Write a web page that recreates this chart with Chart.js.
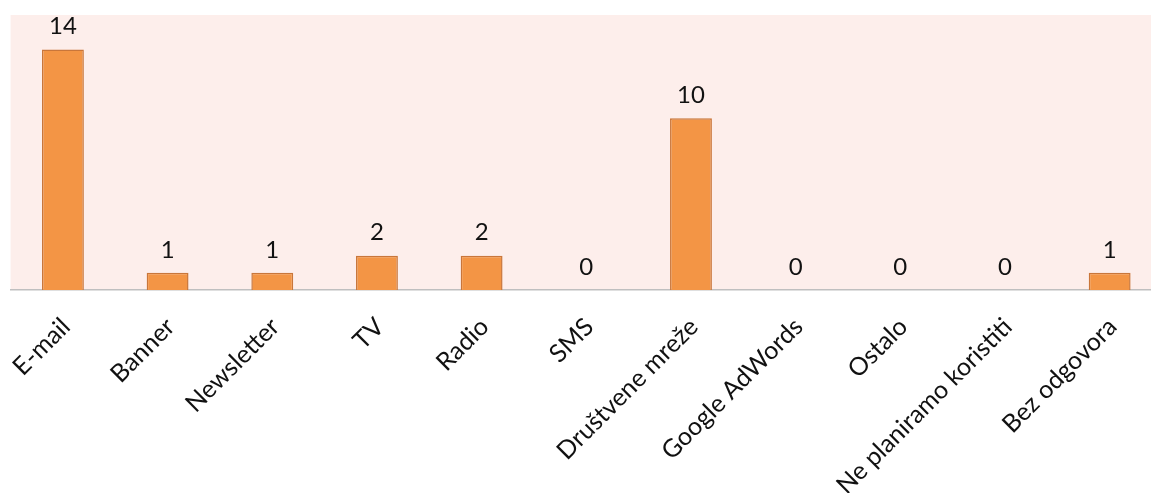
<!DOCTYPE html>
<html>
<head>
<meta charset="utf-8">
<script src="https://cdn.jsdelivr.net/npm/chart.js@4"></script>
<style>
  html, body { margin: 0; padding: 0; background: #fff; overflow: hidden; }
  #wrap { width: 1162px; height: 493px; }
</style>
</head>
<body>
<div id="wrap"><canvas id="bar-chart"></canvas></div>
<script>
var categories = ['E-mail', 'Banner', 'Newsletter', 'TV', 'Radio', 'SMS', 'Društvene mreže', 'Google AdWords', 'Ostalo', 'Ne planiramo koristiti', 'Bez odgovora'];
var counts = [14, 1, 1, 2, 2, 0, 10, 0, 0, 0, 1];

var fontFamily = 'Lato, "Open Sans", sans-serif';

// pink plot background
var plotBackground = {
  id: 'plotBackground',
  beforeDraw: function(chart) {
    var a = chart.chartArea, ctx = chart.ctx;
    ctx.save();
    ctx.fillStyle = '#FDEEEB';
    ctx.fillRect(a.left, a.top, a.right - a.left, a.bottom - a.top);
    ctx.restore();
  }
};

// value labels above each bar
var valueLabels = {
  id: 'valueLabels',
  afterDatasetsDraw: function(chart) {
    var ctx = chart.ctx;
    var meta = chart.getDatasetMeta(0);
    ctx.save();
    ctx.fillStyle = '#111';
    ctx.font = '24px ' + fontFamily;
    ctx.textAlign = 'center';
    ctx.textBaseline = 'bottom';
    meta.data.forEach(function(bar, i) {
      ctx.fillText(counts[i], bar.x, bar.y - 11);
    });
    ctx.restore();
  }
};

var ctx = document.getElementById('bar-chart').getContext('2d');
var chart = new Chart(ctx, {
  type: 'bar',
  data: {
    labels: categories,
    datasets: [{
      data: counts,
      backgroundColor: '#F39545',
      borderColor: '#C9763A',
      borderWidth: 1.5,
      barPercentage: 0.4,
      categoryPercentage: 1
    }]
  },
  options: {
    responsive: true,
    maintainAspectRatio: false,
    animation: false,
    layout: { padding: { left: 9, top: 15, right: 0, bottom: 0 } },
    plugins: { legend: { display: false }, tooltip: { enabled: false } },
    scales: {
      x: {
        grid: { display: false },
        border: { display: true, color: '#BFBFBF', width: 1.5 },
        ticks: {
          color: '#111',
          font: { family: fontFamily, size: 25 },
          minRotation: 45,
          maxRotation: 45,
          autoSkip: false,
          padding: 14,
          labelOffset: 3
        },
        afterFit: function(scale) { scale.height = 203; }
      },
      y: {
        display: false,
        min: 0,
        max: 16
      }
    }
  },
  plugins: [plotBackground, valueLabels]
});
</script>
</body>
</html>
